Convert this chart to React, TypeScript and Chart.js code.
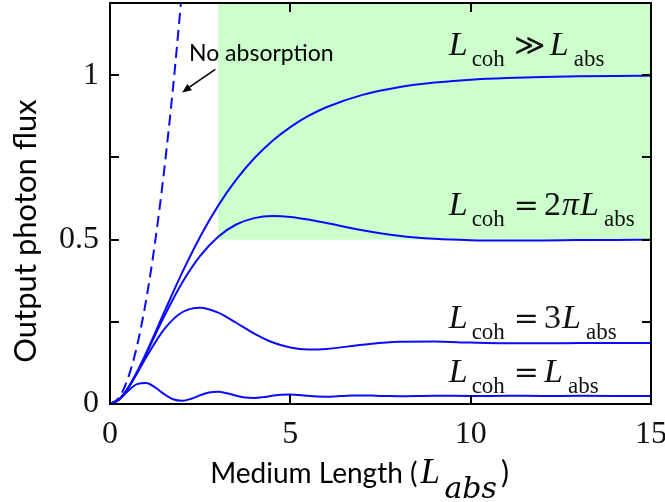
import React, { useEffect, useRef } from "react";
import { Chart, registerables } from "chart.js";

Chart.register(...registerables);

// ---- data ----
const fineLengths = [0, 0.25, 0.5, 0.75, 1, 1.25, 1.5, 1.75, 2, 2.25, 2.5, 2.75, 3, 3.25, 3.5, 3.75, 4, 4.25, 4.5, 4.75, 5, 5.25, 5.5, 5.75, 6, 6.25, 6.5, 6.75, 7, 7.25, 7.5, 7.75, 8, 9, 10, 11, 12, 13, 14, 15];
const coarseLengths = [0, 0.25, 0.5, 0.75, 1, 1.5, 2, 2.5, 3, 3.5, 4, 4.5, 5, 5.5, 6, 7, 8, 9, 10, 11, 12, 13, 14, 15];
const noAbsLengths = [0, 0.25, 0.5, 0.75, 1, 1.25, 1.5, 1.75, 2];

const fluxNoAbsorption = [0, 0.0197, 0.079, 0.177, 0.315, 0.492, 0.709, 0.965, 1.26];
const fluxCohMuchLonger = [0, 0.0138, 0.0489, 0.0978, 0.1548, 0.2784, 0.3996, 0.5091, 0.6036, 0.6826, 0.7477, 0.8003, 0.8425, 0.8763, 0.9029, 0.9405, 0.9637, 0.9779, 0.9866, 0.9918, 0.995, 0.997, 0.9982, 0.9989];
const fluxCoh2Pi = [0, 0.0138, 0.0487, 0.0967, 0.1517, 0.2659, 0.3689, 0.4507, 0.5091, 0.5461, 0.5655, 0.5717, 0.5691, 0.5611, 0.5505, 0.5287, 0.5121, 0.5024, 0.4981, 0.4971, 0.4976, 0.4986, 0.4993, 0.4998];
const fluxCoh3 = [0, 0.0137, 0.0478, 0.0929, 0.1414, 0.2271, 0.2791, 0.293, 0.2778, 0.2472, 0.2142, 0.1877, 0.1717, 0.1659, 0.1676, 0.1802, 0.1891, 0.1898, 0.1869, 0.1849, 0.1847, 0.1854, 0.1858, 0.1859];
const fluxCoh1 = [0, 0.0131, 0.0397, 0.0604, 0.0638, 0.0505, 0.0302, 0.0144, 0.0099, 0.016, 0.0267, 0.0351, 0.037, 0.0325, 0.0254, 0.0199, 0.0185, 0.0209, 0.025, 0.0282, 0.0289, 0.0274, 0.0248, 0.0228, 0.0223, 0.0232, 0.0247, 0.0259, 0.0262, 0.0256, 0.0247, 0.024, 0.0238, 0.0253, 0.0244, 0.0249, 0.0246, 0.0248, 0.0247, 0.0247];

const xTickValues = [0, 5, 10, 15];
const xTickLabels = ["0", "5", "10", "15"];
const yTickValues = [0, 0.5, 1];
const yTickLabels = ["0", "0.5", "1"];
const yMinorTicks = [0.25, 0.5, 0.75, 1];
const xMinorTicks = [5, 10];

const shadeRange = [3, 15];
const shadeFloor = 0.5;

const curveLabelOps = ["≫", "=", "=", "="];
const curveLabelFactors = ["", "2π", "3", ""];
const annotationText = "No absorption";
const xTitleMain = "Medium Length (";
const yTitle = "Output photon flux";

const BLUE = "rgb(10,10,255)";

function toPoints(xs: number[], ys: number[]) {
  return xs.map((x, i) => ({ x, y: ys[i] }));
}

const decorPlugin = {
  id: "decor",
  beforeDatasetsDraw(chart: any) {
    const { ctx, scales } = chart;
    const x = scales.x, y = scales.y;
    const l = x.getPixelForValue(shadeRange[0]);
    const r = x.getPixelForValue(shadeRange[1]);
    const t = y.getPixelForValue(y.max);
    const b = y.getPixelForValue(shadeFloor);
    ctx.save();
    ctx.fillStyle = "#ccffcc";
    ctx.fillRect(l, t, r - l, b - t);
    ctx.restore();
  },
  afterDraw(chart: any) {
    const { ctx, chartArea: ca, scales } = chart;
    const x = scales.x, y = scales.y;
    ctx.save();
    // frame
    ctx.strokeStyle = "#000";
    ctx.lineWidth = 2;
    ctx.strokeRect(ca.left, ca.top, ca.right - ca.left, ca.bottom - ca.top);
    const tl = 9;
    ctx.beginPath();
    xMinorTicks.forEach((v) => {
      const px = Math.round(x.getPixelForValue(v));
      ctx.moveTo(px, ca.bottom);
      ctx.lineTo(px, ca.bottom - tl);
      ctx.moveTo(px, ca.top);
      ctx.lineTo(px, ca.top + tl);
    });
    yMinorTicks.forEach((v) => {
      const py = Math.round(y.getPixelForValue(v));
      ctx.moveTo(ca.left, py);
      ctx.lineTo(ca.left + tl, py);
      ctx.moveTo(ca.right, py);
      ctx.lineTo(ca.right - tl, py);
    });
    ctx.stroke();

    // curve labels
    ctx.fillStyle = "#111";
    ctx.textBaseline = "alphabetic";
    ctx.textAlign = "left";
    const labelBaselines = [1.061, 0.576, 0.232, 0.067];
    const lx = x.getPixelForValue(9.39);
    labelBaselines.forEach((bv, i) => {
      const by = y.getPixelForValue(bv);
      let cx = lx;
      ctx.font = "italic 34px 'Liberation Serif'";
      ctx.fillText("L", cx, by);
      cx += 23;
      ctx.font = "23px 'Liberation Serif'";
      ctx.fillText("coh", cx, by + 11);
      cx += ctx.measureText("coh").width + 9;
      ctx.font = "30px 'DejaVu Serif'";
      ctx.fillText(curveLabelOps[i], cx, by);
      cx += ctx.measureText(curveLabelOps[i]).width + 5;
      const f = curveLabelFactors[i];
      if (f) {
        for (const ch of f) {
          ctx.font = ch === "π" ? "italic 34px 'Liberation Serif'" : "34px 'Liberation Serif'";
          ctx.fillText(ch, cx, by);
          cx += ctx.measureText(ch).width + 1;
        }
      }
      ctx.font = "italic 34px 'Liberation Serif'";
      ctx.fillText("L", cx, by);
      cx += 24;
      ctx.font = "23px 'Liberation Serif'";
      ctx.fillText("abs", cx, by + 11);
    });

    // annotation
    ctx.fillStyle = "#000";
    ctx.font = "23px Lato";
    ctx.fillText(annotationText, x.getPixelForValue(2.19), y.getPixelForValue(1.043));
    const ax0 = x.getPixelForValue(2.92), ay0 = y.getPixelForValue(1.018);
    const ax1 = x.getPixelForValue(2.0), ay1 = y.getPixelForValue(0.948);
    ctx.strokeStyle = "#000";
    ctx.lineWidth = 1.6;
    ctx.beginPath();
    ctx.moveTo(ax0, ay0);
    ctx.lineTo(ax1 + 4, ay1 - 3);
    ctx.stroke();
    const ang = Math.atan2(ay1 - ay0, ax1 - ax0);
    ctx.beginPath();
    ctx.moveTo(ax1, ay1);
    ctx.lineTo(ax1 - 10 * Math.cos(ang - 0.4), ay1 - 10 * Math.sin(ang - 0.4));
    ctx.lineTo(ax1 - 10 * Math.cos(ang + 0.4), ay1 - 10 * Math.sin(ang + 0.4));
    ctx.closePath();
    ctx.fill();

    // x title
    const tb = 483;
    let tx = x.getPixelForValue(2.78);
    ctx.font = "28px Lato";
    ctx.fillText(xTitleMain, tx, tb);
    tx += ctx.measureText(xTitleMain).width + 3;
    ctx.font = "italic 35px 'Liberation Serif'";
    ctx.fillText("L", tx, tb);
    tx += 24;
    ctx.font = "italic 30px 'DejaVu Serif'";
    ctx.fillText("abs", tx, tb + 15);
    tx += ctx.measureText("abs").width + 4;
    ctx.font = "30px Lato";
    ctx.fillText(")", tx, tb);

    // y title
    ctx.translate(36, 231);
    ctx.rotate(-Math.PI / 2);
    ctx.textAlign = "center";
    ctx.font = "31px Lato";
    ctx.fillText(yTitle, 0, 0);
    ctx.restore();
  },
};

export default function App() {
  const ref = useRef<HTMLCanvasElement | null>(null);
  useEffect(() => {
    if (!ref.current) return;
    const lineCommon = {
      borderColor: BLUE,
      borderWidth: 2,
      pointRadius: 0,
      cubicInterpolationMode: "monotone" as const,
      fill: false,
    };
    const chart = new Chart(ref.current, {
      type: "line",
      data: {
        datasets: [
          { ...lineCommon, label: "No absorption", data: toPoints(noAbsLengths, fluxNoAbsorption), borderDash: [11, 6] },
          { ...lineCommon, label: "Lcoh >> Labs", data: toPoints(coarseLengths, fluxCohMuchLonger) },
          { ...lineCommon, label: "Lcoh = 2πLabs", data: toPoints(coarseLengths, fluxCoh2Pi) },
          { ...lineCommon, label: "Lcoh = 3Labs", data: toPoints(coarseLengths, fluxCoh3) },
          { ...lineCommon, label: "Lcoh = Labs", data: toPoints(fineLengths, fluxCoh1) },
        ],
      },
      options: {
        responsive: false,
        animation: false,
        devicePixelRatio: 1,
        layout: { padding: { top: 3, right: 14, left: 0, bottom: 0 } },
        plugins: { legend: { display: false }, tooltip: { enabled: false }, title: { display: false } },
        scales: {
          x: {
            type: "linear",
            min: 0,
            max: 15,
            afterBuildTicks: (s: any) => { s.ticks = xTickValues.map((v) => ({ value: v })); },
            afterFit: (s: any) => { s.height = 98; s.paddingLeft = 0; s.paddingRight = 0; s.paddingTop = 0; s.paddingBottom = 0; },
            grid: { display: false, drawTicks: false },
            border: { display: false },
            ticks: {
              padding: 11,
              color: "#111",
              font: { family: "'Liberation Serif'", size: 32 },
              callback: (v: any) => { const i = xTickValues.indexOf(Number(v)); return i >= 0 ? xTickLabels[i] : ""; },
              maxRotation: 0,
            },
          },
          y: {
            type: "linear",
            min: 0,
            max: 1.22,
            afterBuildTicks: (s: any) => { s.ticks = yTickValues.map((v) => ({ value: v })); },
            afterFit: (s: any) => { s.width = 110; s.paddingLeft = 0; s.paddingRight = 0; s.paddingTop = 0; s.paddingBottom = 0; },
            grid: { display: false, drawTicks: false },
            border: { display: false },
            ticks: {
              padding: 11,
              color: "#111",
              font: { family: "'Liberation Serif'", size: 32 },
              callback: (v: any) => { const i = yTickValues.indexOf(Number(v)); return i >= 0 ? yTickLabels[i] : ""; },
            },
          },
        },
      },
      plugins: [decorPlugin],
    } as any);
    return () => chart.destroy();
  }, []);
  return (
    <div style={{ position: "fixed", left: 0, top: 0, width: 665, height: 502, background: "#fff" }}>
      <canvas ref={ref} width={665} height={502} style={{ display: "block" }} />
    </div>
  );
}
